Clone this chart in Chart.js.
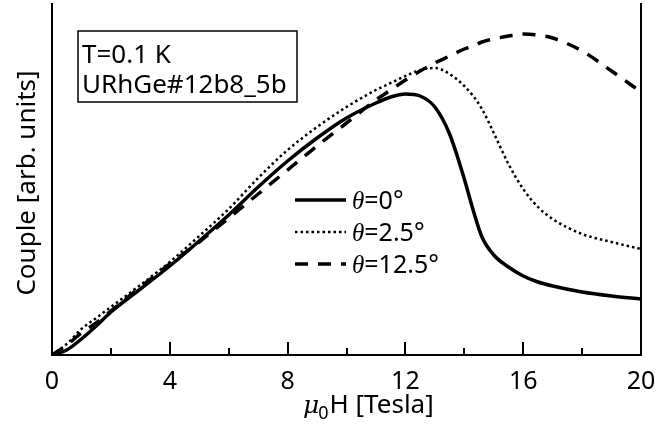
<!DOCTYPE html>
<html>
<head>
<meta charset="utf-8">
<script src="https://cdn.jsdelivr.net/npm/chart.js@4.4.1/dist/chart.umd.min.js"></script>
<style>
  html, body { margin: 0; padding: 0; background: #fff; }
  #wrap { width: 656px; height: 433px; }
</style>
</head>
<body>
<div id="wrap"><canvas id="torque"></canvas></div>
<script>
// field values [T]
const field = [0, 0.5, 1, 1.5, 2, 3, 4, 5, 6, 7, 8, 9, 10, 11, 11.5, 12, 12.5, 13, 13.5, 14, 14.3, 14.6, 15, 15.5, 16, 16.5, 17, 18, 19, 20];
// torque, arb. units
const couple0 = [0, 5, 16, 29, 43, 66, 89, 114, 140, 168, 194, 217, 237, 252, 258, 261, 259, 248, 221, 176, 145, 118, 100, 88, 79, 73, 69, 63, 59, 56];
const couple2p5 = [0, 11, 26, 37, 48, 70, 93, 119, 146, 177, 205, 228, 248, 265, 272, 279, 285, 287, 281, 269, 259, 246, 222, 191, 166, 148, 136, 121, 113, 106];
const couple12p5 = [0, 10, 22, 32, 44, 68, 91, 113, 137, 161, 185, 209, 232, 255, 265, 275, 284, 292, 299, 306, 309, 313, 316, 319, 321, 320, 317, 304, 284, 263];

const seriesNames = ['=0°', '=2.5°', '=12.5°'];
const xTicks = [0, 4, 8, 12, 16, 20];
const xMinorTicks = [2, 6, 10, 14, 18];
const infoLines = ['T=0.1 K', 'URhGe#12b8_5b'];

const SANS = '"Noto Sans", sans-serif';

function pts(ys) {
  return field.map((x, i) => ({ x: x, y: ys[i] }));
}

const decor = {
  id: 'decor',
  afterDraw(chart) {
    const ctx = chart.ctx;
    const a = chart.chartArea;
    const xs = chart.scales.x;
    ctx.save();
    ctx.strokeStyle = '#000';
    ctx.fillStyle = '#000';
    ctx.setLineDash([]);

    // frame: left, right, bottom
    ctx.lineWidth = 2;
    ctx.beginPath();
    ctx.moveTo(a.left, a.top); ctx.lineTo(a.left, a.bottom);
    ctx.moveTo(a.right, a.top); ctx.lineTo(a.right, a.bottom);
    ctx.moveTo(a.left - 1, a.bottom); ctx.lineTo(a.right + 1, a.bottom);
    ctx.stroke();

    // inward ticks
    ctx.beginPath();
    xTicks.forEach(v => {
      const px = Math.round(xs.getPixelForValue(v));
      ctx.moveTo(px, a.bottom); ctx.lineTo(px, a.bottom - 13);
    });
    xMinorTicks.forEach(v => {
      const px = Math.round(xs.getPixelForValue(v));
      ctx.moveTo(px, a.bottom); ctx.lineTo(px, a.bottom - 7);
    });
    ctx.stroke();

    // tick labels
    ctx.font = '25px ' + SANS;
    ctx.textAlign = 'center';
    ctx.textBaseline = 'alphabetic';
    xTicks.forEach(v => {
      ctx.fillText(String(v), xs.getPixelForValue(v), a.bottom + 34);
    });

    // x title: mu_0 H [Tesla]
    ctx.textAlign = 'left';
    let x = 303, y = 413;
    ctx.font = 'italic 25px "DejaVu Serif", serif';
    ctx.fillText('μ', x, y);
    x += ctx.measureText('μ').width - 1;
    ctx.font = '18px ' + SANS;
    ctx.fillText('0', x, y + 6);
    x += ctx.measureText('0').width + 1;
    ctx.font = '26px ' + SANS;
    ctx.fillText('H [Tesla]', x, y);

    // y title
    ctx.save();
    ctx.translate(35, (a.top + a.bottom) / 2 + 4);
    ctx.rotate(-Math.PI / 2);
    ctx.textAlign = 'center';
    ctx.font = '26px ' + SANS;
    ctx.fillText('Couple [arb. units]', 0, 0);
    ctx.restore();

    // info box
    ctx.lineWidth = 1.5;
    ctx.strokeRect(78, 31, 219, 71);
    ctx.font = '26px ' + SANS;
    ctx.textAlign = 'left';
    ctx.fillText(infoLines[0], 82, 63);
    ctx.fillText(infoLines[1], 82, 93);

    // legend
    const rows = [200, 232, 264];
    chart.data.datasets.forEach((ds, i) => {
      const ly = rows[i];
      ctx.strokeStyle = ds.borderColor;
      ctx.lineWidth = ds.borderWidth;
      ctx.setLineDash(ds.borderDash || []);
      ctx.beginPath();
      ctx.moveTo(295, ly); ctx.lineTo(346, ly);
      ctx.stroke();
      ctx.setLineDash([]);
      let tx = 352;
      ctx.font = 'italic 25px "Liberation Serif", serif';
      ctx.fillText('θ', tx, ly + 9);
      tx += ctx.measureText('θ').width;
      ctx.font = '25px ' + SANS;
      ctx.fillText(seriesNames[i], tx, ly + 9);
    });

    ctx.restore();
  }
};

new Chart(document.getElementById('torque'), {
  type: 'line',
  data: {
    datasets: [
      { label: 'θ' + seriesNames[0], data: pts(couple0), borderColor: '#000', borderWidth: 3.5, cubicInterpolationMode: 'monotone' },
      { label: 'θ' + seriesNames[1], data: pts(couple2p5), borderColor: '#000', borderWidth: 2.5, borderDash: [2.5, 3], cubicInterpolationMode: 'monotone' },
      { label: 'θ' + seriesNames[2], data: pts(couple12p5), borderColor: '#000', borderWidth: 3.5, borderDash: [13, 10], cubicInterpolationMode: 'monotone' }
    ]
  },
  options: {
    responsive: true,
    maintainAspectRatio: false,
    animation: false,
    layout: { padding: { left: 52, right: 15, top: 3, bottom: 78 } },
    elements: { point: { radius: 0 } },
    plugins: { legend: { display: false }, tooltip: { enabled: false } },
    scales: {
      x: { type: 'linear', min: 0, max: 20, display: false },
      y: { min: 0, max: 352, display: false }
    }
  },
  plugins: [decor]
});
</script>
</body>
</html>
